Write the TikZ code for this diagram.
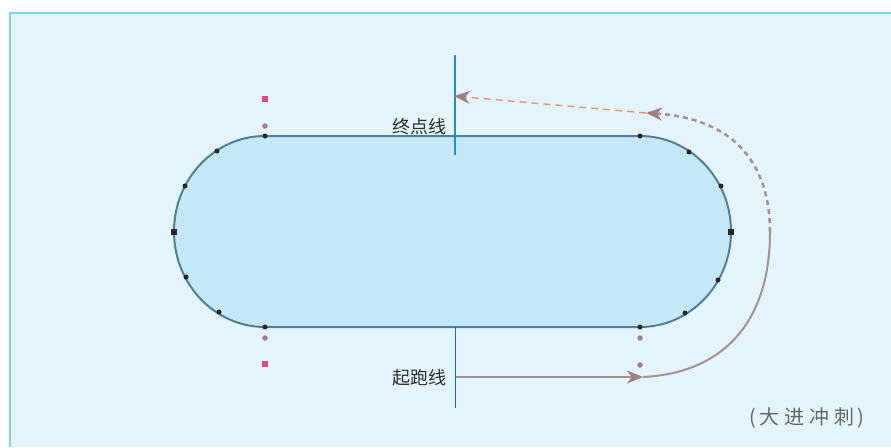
\documentclass[tikz,border=0pt]{standalone}
\usepackage{fontspec}
\newfontfamily\cjk{Noto Sans CJK SC}
\usetikzlibrary{arrows.meta}
\definecolor{bgfill}{HTML}{E4F4FB}
\definecolor{bgedge}{HTML}{80D4F0}
\definecolor{trackfill}{HTML}{C4E8F8}
\definecolor{trackedge}{HTML}{4F8098}
\definecolor{lineblue}{HTML}{1E8FD0}
\definecolor{pathgray}{HTML}{A89092}
\definecolor{arrowbrown}{HTML}{A07F80}
\definecolor{dashorange}{HTML}{F08A68}
\definecolor{pinkmark}{HTML}{E8447E}
\definecolor{mauvedot}{HTML}{A07E8E}
\definecolor{labelgray}{HTML}{2E2E2E}
\tikzset{
  x=1pt,y=-1pt,
  trackdot/.style={circle,fill=black!85,inner sep=0pt,minimum size=5pt},
  endsq/.style={rectangle,fill=black!85,inner sep=0pt,minimum size=6pt},
  pinksq/.style={rectangle,fill=pinkmark,inner sep=0pt,minimum size=6pt},
  mauve/.style={circle,fill=mauvedot,inner sep=0pt,minimum size=5.5pt},
  lbl/.style={font=\cjk\fontsize{18}{18}\selectfont,text=labelgray,inner sep=0pt},
  tipstyle/.style={-{Stealth[length=16pt,width=13pt,inset=5pt,color=arrowbrown]}},
}
\begin{document}
\begin{tikzpicture}
\useasboundingbox (0,0) rectangle (891,447);
% background
\fill[bgfill] (9,12) rectangle (891,447);
\draw[bgedge,line width=1.5pt] (9.75,447) -- (9.75,12.75) -- (891,12.75);
% track
\draw[trackedge,line width=2pt,fill=trackfill]
  (265,136) -- (640,136) arc[start angle=-90,end angle=90,x radius=91,y radius=95.5]
  -- (265,327) arc[start angle=90,end angle=270,x radius=91,y radius=95.5] -- cycle;
% dots on track
\foreach \n/\x/\y in {t1/265/136,t2/640/136,b1/265/327,b2/640/327,
  l1/217/151,l2/185/186,l4/186/277,l5/219/312,
  r1/689/152,r2/721/186,r4/718/280,r5/685/313}
  \node[trackdot] (\n) at (\x,\y) {};
\node[endsq] (lsq) at (174,232) {};
\node[endsq] (rsq) at (731,232) {};
\node[pinksq] (p1) at (265,99) {};
\node[pinksq] (p2) at (265,364) {};
\node[mauve] (m1) at (265,126) {};
\node[mauve] (m2) at (265,338) {};
\node[mauve] (m3) at (640,338) {};
\node[mauve] (m4) at (640,365) {};
% finish and start lines
\coordinate (f1) at (455,55);
\coordinate (f2) at (455,155);
\draw[lineblue,line width=2pt] (f1) -- (f2);
\coordinate (s1) at (455,327);
\coordinate (s2) at (455,408);
\draw[lineblue!80!black,line width=1pt] (s1) -- (s2);
\node[lbl,anchor=east] (fin) at (447,127) {终点线};
\node[lbl,anchor=east] (start) at (447,378) {起跑线};
\node[font=\cjk\fontsize{20}{20}\selectfont,text=black!60,inner sep=0pt] (note) at (807,418)
  {(\hspace{3pt}大\hspace{5pt}进\hspace{5pt}冲\hspace{5pt}刺\hspace{3pt})};
% run path
\coordinate (a0) at (456,377);
\coordinate (a1) at (643,377);
\coordinate (a2) at (770,232);
\coordinate (a3) at (646,113);
\coordinate (a4) at (454,96);
\draw[pathgray,line width=2pt,tipstyle] (a0) -- (a1);
\draw[pathgray,line width=2pt] (a1) .. controls (725,373) and (770,320) .. (a2);
\draw[pathgray,line width=2.5pt,dash pattern=on 5pt off 4pt,tipstyle] (a2) .. controls (770,160) and (730,118) .. (a3);
\draw[dashorange,line width=1.3pt,dash pattern=on 7pt off 5pt,tipstyle] (a3) -- (a4);
\end{tikzpicture}
\end{document}
